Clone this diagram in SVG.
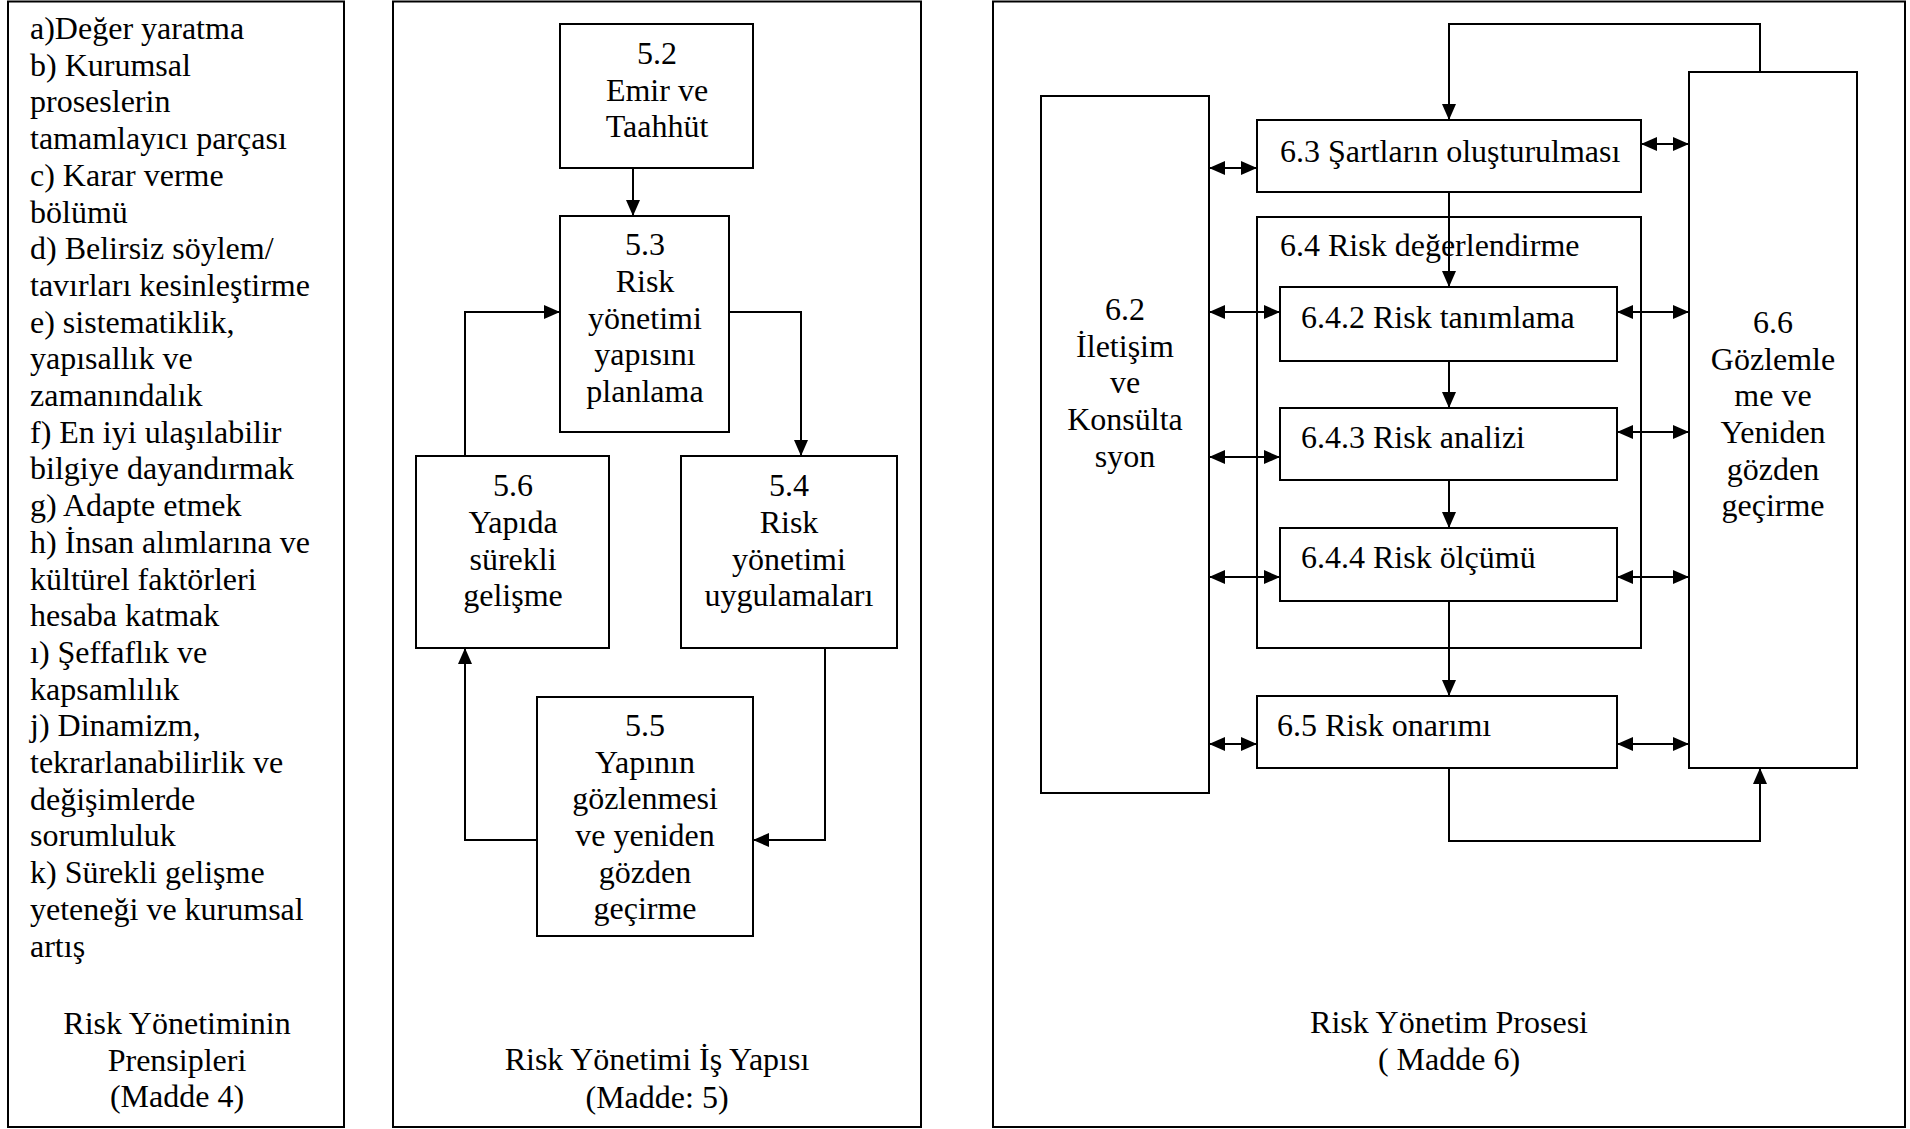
<svg xmlns="http://www.w3.org/2000/svg" width="1910" height="1129" viewBox="0 0 1910 1129">
<style>
.box{fill:none;stroke:#000;stroke-width:2}
.conn{fill:none;stroke:#000;stroke-width:2}
.t{font-family:"Liberation Serif","Times New Roman",serif;font-size:32px;fill:#000}
.c{text-anchor:middle}
</style>
<defs>
<marker id="arr" viewBox="0 0 16 14" refX="16" refY="7" markerWidth="16" markerHeight="14" markerUnits="userSpaceOnUse" orient="auto-start-reverse">
<path d="M0,0L16,7L0,14z" fill="#000"/>
</marker>
</defs>
<rect x="0" y="0" width="1910" height="1129" fill="#fff"/>

<g id="panel-principles">
<rect class="box" x="8" y="1.5" width="336" height="1125.5"/>
<text class="t" x="30" y="39">
<tspan x="30" y="39">a)Değer yaratma</tspan>
<tspan x="30" dy="36.7">b) Kurumsal</tspan>
<tspan x="30" dy="36.7">proseslerin</tspan>
<tspan x="30" dy="36.7">tamamlayıcı parçası</tspan>
<tspan x="30" dy="36.7">c) Karar verme</tspan>
<tspan x="30" dy="36.7">bölümü</tspan>
<tspan x="30" dy="36.7">d) Belirsiz söylem/</tspan>
<tspan x="30" dy="36.7">tavırları kesinleştirme</tspan>
<tspan x="30" dy="36.7">e) sistematiklik,</tspan>
<tspan x="30" dy="36.7">yapısallık ve</tspan>
<tspan x="30" dy="36.7">zamanındalık</tspan>
<tspan x="30" dy="36.7">f) En iyi ulaşılabilir</tspan>
<tspan x="30" dy="36.7">bilgiye dayandırmak</tspan>
<tspan x="30" dy="36.7">g) Adapte etmek</tspan>
<tspan x="30" dy="36.7">h) İnsan alımlarına ve</tspan>
<tspan x="30" dy="36.7">kültürel faktörleri</tspan>
<tspan x="30" dy="36.7">hesaba katmak</tspan>
<tspan x="30" dy="36.7">ı) Şeffaflık ve</tspan>
<tspan x="30" dy="36.7">kapsamlılık</tspan>
<tspan x="30" dy="36.7">j) Dinamizm,</tspan>
<tspan x="30" dy="36.7">tekrarlanabilirlik ve</tspan>
<tspan x="30" dy="36.7">değişimlerde</tspan>
<tspan x="30" dy="36.7">sorumluluk</tspan>
<tspan x="30" dy="36.7">k) Sürekli gelişme</tspan>
<tspan x="30" dy="36.7">yeteneği ve kurumsal</tspan>
<tspan x="30" dy="36.7">artış</tspan>
</text>
<text class="t c" x="177" y="1034">Risk Yönetiminin</text>
<text class="t c" x="177" y="1071">Prensipleri</text>
<text class="t c" x="177" y="1107">(Madde 4)</text>
</g>

<g id="panel-framework">
<rect class="box" x="393" y="1.5" width="528" height="1125.5"/>
<text class="t c" x="657" y="1070">Risk Yönetimi İş Yapısı</text>
<text class="t c" x="657" y="1108">(Madde: 5)</text>
</g>

<g id="n52">
<rect class="box" x="560" y="24" width="193" height="144"/>
<text class="t c" x="657" y="64">5.2</text>
<text class="t c" x="657" y="101">Emir ve</text>
<text class="t c" x="657" y="137">Taahhüt</text>
</g>

<g id="n53">
<rect class="box" x="560" y="216" width="169" height="216"/>
<text class="t c" x="645" y="255">5.3</text>
<text class="t c" x="645" y="292">Risk</text>
<text class="t c" x="645" y="329">yönetimi</text>
<text class="t c" x="645" y="365">yapısını</text>
<text class="t c" x="645" y="402">planlama</text>
</g>

<g id="n56">
<rect class="box" x="416" y="456" width="193" height="192"/>
<text class="t c" x="513" y="496">5.6</text>
<text class="t c" x="513" y="533">Yapıda</text>
<text class="t c" x="513" y="570">sürekli</text>
<text class="t c" x="513" y="606">gelişme</text>
</g>

<g id="n54">
<rect class="box" x="681" y="456" width="216" height="192"/>
<text class="t c" x="789" y="496">5.4</text>
<text class="t c" x="789" y="533">Risk</text>
<text class="t c" x="789" y="570">yönetimi</text>
<text class="t c" x="789" y="606">uygulamaları</text>
</g>

<g id="n55">
<rect class="box" x="537" y="697" width="216" height="239"/>
<text class="t c" x="645" y="736">5.5</text>
<text class="t c" x="645" y="773">Yapının</text>
<text class="t c" x="645" y="809">gözlenmesi</text>
<text class="t c" x="645" y="846">ve yeniden</text>
<text class="t c" x="645" y="883">gözden</text>
<text class="t c" x="645" y="919">geçirme</text>
</g>

<g id="panel-process">
<rect class="box" x="993" y="1.5" width="912" height="1125.5"/>
<text class="t c" x="1449" y="1033">Risk Yönetim Prosesi</text>
<text class="t c" x="1449" y="1070">( Madde 6)</text>
</g>

<g id="n62">
<rect class="box" x="1041" y="96" width="168" height="697"/>
<text class="t c" x="1125" y="320">6.2</text>
<text class="t c" x="1125" y="357">İletişim</text>
<text class="t c" x="1125" y="393">ve</text>
<text class="t c" x="1125" y="430">Konsülta</text>
<text class="t c" x="1125" y="467">syon</text>
</g>

<g id="n63">
<rect class="box" x="1257" y="120" width="384" height="72"/>
<text class="t" x="1280" y="162">6.3 Şartların oluşturulması</text>
</g>

<g id="n64">
<rect class="box" x="1257" y="217" width="384" height="431"/>
<text class="t" x="1280" y="256">6.4 Risk değerlendirme</text>
</g>

<g id="n642">
<rect class="box" x="1280" y="287" width="337" height="74"/>
<text class="t" x="1301" y="328">6.4.2 Risk tanımlama</text>
</g>

<g id="n643">
<rect class="box" x="1280" y="408" width="337" height="72"/>
<text class="t" x="1301" y="448">6.4.3 Risk analizi</text>
</g>

<g id="n644">
<rect class="box" x="1280" y="528" width="337" height="73"/>
<text class="t" x="1301" y="568">6.4.4 Risk ölçümü</text>
</g>

<g id="n65">
<rect class="box" x="1257" y="696" width="360" height="72"/>
<text class="t" x="1277" y="736">6.5 Risk onarımı</text>
</g>

<g id="n66">
<rect class="box" x="1689" y="72" width="168" height="696"/>
<text class="t c" x="1773" y="333">6.6</text>
<text class="t c" x="1773" y="370">Gözlemle</text>
<text class="t c" x="1773" y="406">me ve</text>
<text class="t c" x="1773" y="443">Yeniden</text>
<text class="t c" x="1773" y="480">gözden</text>
<text class="t c" x="1773" y="516">geçirme</text>
</g>

<g id="connectors">
<path class="conn" d="M633,168V216" marker-end="url(#arr)"/>
<path class="conn" d="M465,456V312H560" marker-end="url(#arr)"/>
<path class="conn" d="M729,312H801V456" marker-end="url(#arr)"/>
<path class="conn" d="M825,648V840H753" marker-end="url(#arr)"/>
<path class="conn" d="M537,840H465V648" marker-end="url(#arr)"/>

<path class="conn" d="M1760,72V24H1449V120" marker-end="url(#arr)"/>
<path class="conn" d="M1449,192V287" marker-end="url(#arr)"/>
<path class="conn" d="M1449,361V408" marker-end="url(#arr)"/>
<path class="conn" d="M1449,480V528" marker-end="url(#arr)"/>
<path class="conn" d="M1449,601V696" marker-end="url(#arr)"/>
<path class="conn" d="M1449,768V841H1760V768" marker-end="url(#arr)"/>

<path class="conn" d="M1209,168H1257" marker-start="url(#arr)" marker-end="url(#arr)"/>
<path class="conn" d="M1641,144H1689" marker-start="url(#arr)" marker-end="url(#arr)"/>
<path class="conn" d="M1209,312H1280" marker-start="url(#arr)" marker-end="url(#arr)"/>
<path class="conn" d="M1617,312H1689" marker-start="url(#arr)" marker-end="url(#arr)"/>
<path class="conn" d="M1209,457H1280" marker-start="url(#arr)" marker-end="url(#arr)"/>
<path class="conn" d="M1617,432H1689" marker-start="url(#arr)" marker-end="url(#arr)"/>
<path class="conn" d="M1209,577H1280" marker-start="url(#arr)" marker-end="url(#arr)"/>
<path class="conn" d="M1617,577H1689" marker-start="url(#arr)" marker-end="url(#arr)"/>
<path class="conn" d="M1209,744H1257" marker-start="url(#arr)" marker-end="url(#arr)"/>
<path class="conn" d="M1617,744H1689" marker-start="url(#arr)" marker-end="url(#arr)"/>
</g>
</svg>
